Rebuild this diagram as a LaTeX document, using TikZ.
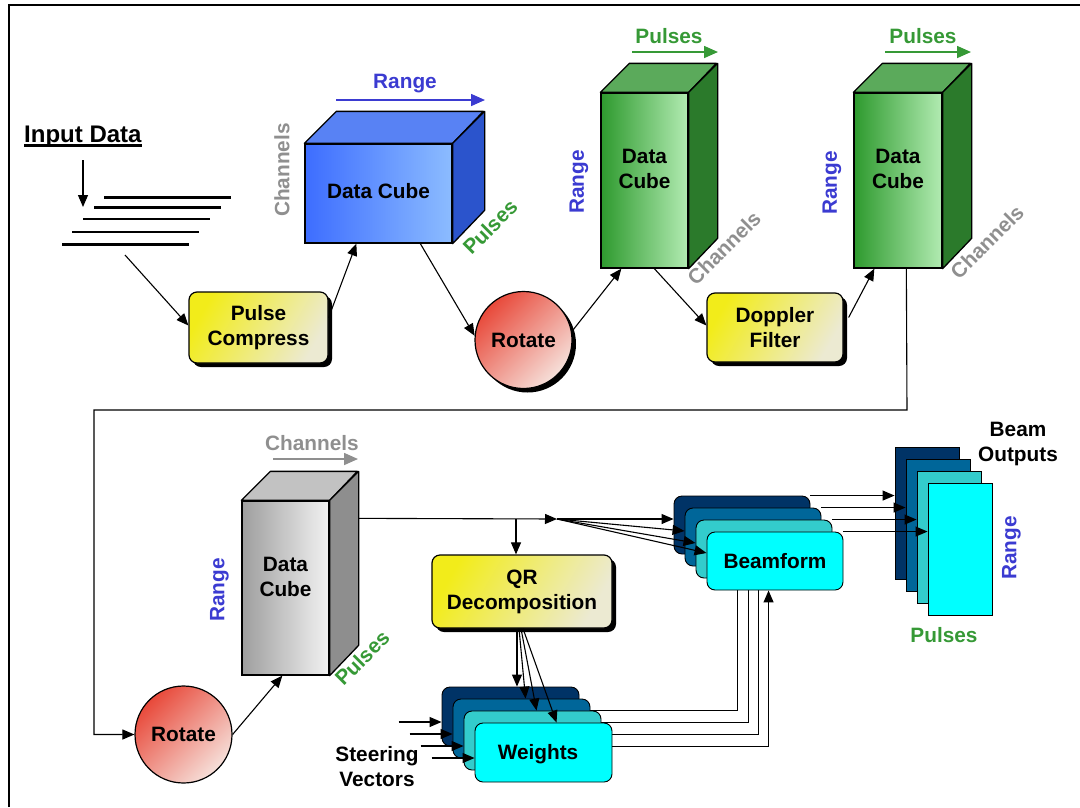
\documentclass[tikz,border=0pt]{standalone}
\usepackage{fontspec}
\setmainfont{Liberation Sans}
\usetikzlibrary{arrows.meta,calc,shadows}
\pgfdeclarelayer{background}
\pgfsetlayers{background,main}
\definecolor{yelL}{HTML}{F2EC1A}
\definecolor{yelR}{HTML}{ECEAD2}
\definecolor{redL}{HTML}{E8493A}
\definecolor{redR}{HTML}{F6E0DA}
\definecolor{blueL}{HTML}{3D6DFF}
\definecolor{blueR}{HTML}{8CBCFF}
\definecolor{blueTop}{HTML}{5882F4}
\definecolor{blueSide}{HTML}{2B54CC}
\definecolor{greenL}{HTML}{2E9A2E}
\definecolor{greenR}{HTML}{B2EBB2}
\definecolor{greenTop}{HTML}{5BAA5B}
\definecolor{greenSide}{HTML}{2B7A2B}
\definecolor{grayL}{HTML}{9E9E9E}
\definecolor{grayR}{HTML}{F2F2F2}
\definecolor{grayTop}{HTML}{C2C2C2}
\definecolor{graySide}{HTML}{8E8E8E}
\definecolor{rangeblue}{HTML}{3B3BD1}
\definecolor{pulsegreen}{HTML}{369936}
\definecolor{changray}{HTML}{8F8F8F}
\definecolor{layA}{HTML}{003366}
\definecolor{layB}{HTML}{006699}
\definecolor{layC}{HTML}{33CCCC}
\definecolor{layD}{HTML}{00FFFF}
\tikzset{
  ybox/.style={draw, line width=1.2pt, rounded corners=8pt, left color=yelL, right color=yelR, shading angle=60,
    general shadow={fill=black, shadow xshift=4pt, shadow yshift=-4pt}, align=center, inner sep=0pt},
  rotcircle/.style={draw, line width=1.2pt, circle, minimum size=97pt, inner sep=0pt, left color=redL, right color=redR, shading angle=45},
  cubefront/.style={draw, line width=1.3pt, inner sep=0pt},
  cubeedge/.style={draw, line width=1.3pt, line join=round},
  cubetext/.style={align=center, inner sep=0pt},
  lay/.style={draw, line width=0.9pt, rounded corners=8pt, inner sep=0pt},
  plate/.style={draw, line width=0.9pt, inner sep=0pt, minimum width=64pt, minimum height=132pt},
  rng/.style={text=rangeblue, inner sep=0pt},
  pls/.style={text=pulsegreen, inner sep=0pt},
  chn/.style={text=changray, inner sep=0pt},
  conn/.style={line width=1.1pt, -{Triangle[length=12pt,width=10pt]}},
  plain/.style={line width=1.1pt},
  lblarrow/.style={line width=1.6pt, -{Triangle[length=14pt,width=12pt]}},
}
\begin{document}
\begin{tikzpicture}[x=1pt,y=-1pt,font=\bfseries\fontsize{20.8}{25}\selectfont]
\useasboundingbox (0,0) rectangle (1080,807);
% frame
\draw[line width=2pt] (8.5,807) -- (8.5,5) -- (1080,5);

% input data
\node[anchor=base west, inner sep=0pt, font=\bfseries\fontsize{24}{28}\selectfont] (inlabel) at (24,142) {Input Data};
\draw[line width=2.4pt] ($(inlabel.base west)+(0,3.5)$) -- ($(inlabel.base east)+(0,3.5)$);
\coordinate (inTop) at (83,160);
\coordinate (inBot) at (83,207);
\draw[conn] (inTop) -- (inBot);
\draw[line width=3pt] (104,197) -- (231,197);
\draw[line width=3pt] (94,207) -- (221,207);
\draw[line width=2pt] (83,219) -- (210,219);
\draw[line width=2pt] (72,232) -- (199,232);
\draw[line width=3pt] (62,244) -- (189,244);
\coordinate (inOut) at (125,255);

% pulse compress
\node[ybox, minimum width=139pt, minimum height=71pt] (pc) at (258.5,327.5) {Pulse\\Compress};

% blue cube
\node[cubefront, minimum width=147pt, minimum height=99pt, left color=blueL, right color=blueR] (c1) at (378.5,193.5) {};
\draw[cubeedge, fill=blueTop] (c1.north west) -- ++(32,-32) -- ++(147,0) -- (c1.north east) -- cycle;
\draw[cubeedge, fill=blueSide] (c1.north east) -- ++(32,-32) -- ++(0,99) -- (c1.south east) -- cycle;
\node[cubetext] (c1t) at ($(c1)+(0,-2)$) {Data Cube};
\node[rng] (c1r) at (405,84) {Range};
\coordinate (c1ra) at (336,100);
\coordinate (c1rb) at (485,100);
\draw[lblarrow, rangeblue] (c1ra) -- (c1rb);
\node[chn, rotate=90] (c1c) at (282,170) {Channels};
\node[pls, rotate=45] (c1p) at (490,227) {Pulses};

% rotate 1
\node[rotcircle, general shadow={fill=black, shadow xshift=4pt, shadow yshift=-4pt}] (r1) at (523.5,340) {Rotate};

% green cube 1
\node[cubefront, minimum width=87pt, minimum height=175pt, left color=greenL, right color=greenR] (g1) at (644.5,180.5) {};
\draw[cubeedge, fill=greenTop] (g1.north west) -- ++(29,-29) -- ++(87,0) -- (g1.north east) -- cycle;
\draw[cubeedge, fill=greenSide] (g1.north east) -- ++(29,-29) -- ++(0,175) -- (g1.south east) -- cycle;
\node[cubetext] (g1t) at ($(g1)+(0,-12)$) {Data\\Cube};
\node[pls] (g1p) at (669,36) {Pulses};
\coordinate (g1pa) at (632,52);
\coordinate (g1pb) at (718,52);
\draw[lblarrow, pulsegreen] (g1pa) -- (g1pb);
\node[rng, rotate=90] (g1r) at (579,182) {Range};
\node[chn, rotate=45] (g1c) at (724,248) {Channels};

% doppler filter
\node[ybox, minimum width=136pt, minimum height=69pt] (df) at (775,327.5) {Doppler\\Filter};

% green cube 2
\node[cubefront, minimum width=88pt, minimum height=175pt, left color=greenL, right color=greenR] (g2) at (898,180.5) {};
\draw[cubeedge, fill=greenTop] (g2.north west) -- ++(29,-29) -- ++(88,0) -- (g2.north east) -- cycle;
\draw[cubeedge, fill=greenSide] (g2.north east) -- ++(29,-29) -- ++(0,175) -- (g2.south east) -- cycle;
\node[cubetext] (g2t) at ($(g2)+(0,-12)$) {Data\\Cube};
\node[pls] (g2p) at (923,36) {Pulses};
\coordinate (g2pa) at (885,52);
\coordinate (g2pb) at (971,52);
\draw[lblarrow, pulsegreen] (g2pa) -- (g2pb);
\node[rng, rotate=90] (g2r) at (832,183) {Range};
\node[chn, rotate=45] (g2c) at (987,242) {Channels};

% rotate 2
\node[rotcircle] (r2) at (183.5,734.5) {Rotate};

% gray cube
\node[cubefront, minimum width=87pt, minimum height=174pt, left color=grayL, right color=grayR] (gc) at (285.5,588) {};
\draw[cubeedge, fill=grayTop] (gc.north west) -- ++(29,-29) -- ++(87,0) -- (gc.north east) -- cycle;
\draw[cubeedge, fill=graySide] (gc.north east) -- ++(29,-29) -- ++(0,174) -- (gc.south east) -- cycle;
\node[cubetext] (gct) at ($(gc)+(0,-11)$) {Data\\Cube};
\node[chn] (gcc) at (312,443) {Channels};
\coordinate (gcca) at (273,459);
\coordinate (gccb) at (358,459);
\draw[lblarrow, changray] (gcca) -- (gccb);
\node[rng, rotate=90] (gcr) at (219.5,590) {Range};
\node[pls, rotate=45] (gcp) at (362,658) {Pulses};

% QR
\node[ybox, minimum width=180pt, minimum height=73pt] (qr) at (522,591.5) {QR\\Decomposition};

% beamform stack
\node[lay, fill=layA, minimum width=136pt, minimum height=58pt] (bf1) at (742,525) {};
\node[lay, fill=layB, minimum width=136pt, minimum height=58pt] (bf2) at (753,537) {};
\node[lay, fill=layC, minimum width=136pt, minimum height=58pt] (bf3) at (764,549) {};
\node[lay, fill=layD, minimum width=136pt, minimum height=58pt] (bf4) at (775,561) {Beamform};

% weights stack
\node[lay, fill=layA, minimum width=137pt, minimum height=59pt] (w1) at (510.5,716.5) {};
\node[lay, fill=layB, minimum width=137pt, minimum height=59pt] (w2) at (521.5,728.5) {};
\node[lay, fill=layC, minimum width=137pt, minimum height=59pt] (w3) at (532.5,740.5) {};
\node[lay, fill=layD, minimum width=137pt, minimum height=59pt] (w4) at (543.5,752.5) {};
\node[inner sep=0pt] (w4t) at (538,754) {Weights};
\node[align=center, inner sep=0pt] (steer) at (377,767) {Steering\\Vectors};

% beam output plates
\node[plate, fill=layA] (p1) at (927,513) {};
\node[plate, fill=layB] (p2) at (938,525) {};
\node[plate, fill=layC] (p3) at (949,537) {};
\node[plate, fill=layD] (p4) at (960,549) {};
\node[align=center, inner sep=0pt] (bo) at (1018,444) {Beam\\Outputs};
\node[rng, rotate=90] (por) at (1011.5,548) {Range};
\node[pls] (pop) at (944,635) {Pulses};

% connectors, top row
\draw[conn] (inOut) -- ([yshift=2pt]pc.west);
\draw[conn] (pc.8) -- ($(c1.south west)+(52,0)$);
\draw[conn] ($(c1.south west)+(116,0)$) -- (r1.175);
\draw[conn] (r1.10) -- ($(g1.south west)+(21,0)$);
\draw[conn] ($(g1.south west)+(54,0)$) -- ([yshift=2pt]df.west);
\draw[conn] ($(df.east)+(5,-10)$) -- ($(g2.south west)+(21,0)$);

% loop to lower row
\coordinate (loopR) at (907,410);
\coordinate (loopL) at (94,410);
\draw[conn] ($(g2.south west)+(53,0)$) -- (loopR) -- (loopL) |- (r2.west);
\draw[conn] (r2.east) -- ($(gc.south west)+(41,0)$);

% gray cube to fan
\coordinate (gcr2) at ($(gc.north east)+(29,18)$);
\coordinate (fan) at (557,519);
\coordinate (br) at (516,519);
\draw[conn] (gcr2) -- (fan);
\draw[conn] (br) -- (br |- qr.north);
\draw[conn] (fan) -- (fan -| bf1.west);
\draw[conn] (fan) -- ([yshift=6pt]bf2.west);
\draw[conn] (fan) -- ([yshift=6pt]bf3.west);
\draw[conn] (fan) -- ([yshift=8pt]bf4.west);

% beamform to outputs
\draw[conn] (bf1.north east) -- (bf1.north east -| p1.west);
\draw[conn] (bf2.north east) -- (bf2.north east -| p2.west);
\draw[conn] (bf3.north east) -- (bf3.north east -| p3.west);
\draw[conn] (bf4.north east) -- (bf4.north east -| p4.west);

% QR to weights
\coordinate (qrs) at ([xshift=-5pt]qr.south);
\draw[conn] (qrs) -- (qrs |- w1.north);
\draw[conn] ([xshift=-3pt]qr.south) -- ($(w2.north west)+(73,0)$);
\draw[conn] ([xshift=-1pt]qr.south) -- ($(w3.north west)+(73,0)$);
\draw[conn] ([xshift=1pt]qr.south) -- ($(w4.north west)+(82,0)$);

% steering inputs
\draw[conn] ($(w1.west)+(-43,5.5)$) -- ($(w1.west)+(0,5.5)$);
\draw[conn] ($(w2.west)+(-43,5.5)$) -- ($(w2.west)+(0,5.5)$);
\draw[conn] ($(w3.west)+(-43,5.5)$) -- ($(w3.west)+(0,5.5)$);
\draw[conn] ($(w4.west)+(-43,5.5)$) -- ($(w4.west)+(0,5.5)$);

% weights to beamform
\begin{pgfonlayer}{background}
\draw[plain] ([yshift=6pt]w1.east) -| ($(bf4.south west)+(31,0)$);
\draw[plain] ([yshift=6pt]w2.east) -| ($(bf4.south west)+(42,0)$);
\draw[plain] ([yshift=6pt]w3.east) -| ($(bf4.south west)+(52,0)$);
\end{pgfonlayer}
\draw[conn] ([yshift=6pt]w4.east) -| ($(bf4.south west)+(62,0)$);
\end{tikzpicture}
\end{document}
